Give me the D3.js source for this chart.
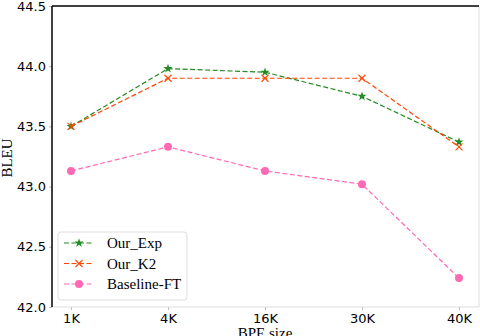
<!DOCTYPE html>
<html>
<head>
<meta charset="utf-8">
<script src="https://cdn.jsdelivr.net/npm/d3@7"></script>
<style>
  body { margin: 0; background: #fff; }
  svg { display: block; }
</style>
</head>
<body>
<svg id="chart" width="480" height="336"></svg>
<script>
// data
var bpeSizes = ["1K", "4K", "16K", "30K", "40K"];
var ourExp = [43.50, 43.98, 43.95, 43.75, 43.37];
var ourK2 = [43.50, 43.90, 43.90, 43.90, 43.33];
var baselineFT = [43.13, 43.33, 43.13, 43.02, 42.24];
var yTicks = [42.0, 42.5, 43.0, 43.5, 44.0, 44.5];

var series = [
	{name: "Our_Exp", values: ourExp, color: "#228b22", marker: "star"},
	{name: "Our_K2", values: ourK2, color: "#ff4500", marker: "x"},
	{name: "Baseline-FT", values: baselineFT, color: "#ff69b4", marker: "circle"}
];

var svg = d3.select("#chart");
//plot box (note: "top" is reserved on window, so use other names)
var plotLeft = 52, plotRight = 479, plotTop = 6, plotBottom = 307;

var x = d3.scalePoint().domain(bpeSizes).range([71, 459]);
var y = d3.scaleLinear().domain([42.0, 44.5]).range([plotBottom, plotTop]);

// axes
var xAxis = svg.append("g").attr("transform", "translate(0," + plotBottom + ")")
	.call(d3.axisBottom(x).tickSize(3).tickPadding(4));
xAxis.select(".domain").remove();
xAxis.selectAll("line").attr("stroke", "#bbb");
xAxis.selectAll("text").attr("font-family", "DejaVu Sans").attr("font-size", 13).attr("fill", "#000");

var yAxis = svg.append("g").attr("transform", "translate(" + plotLeft + ",0)")
	.call(d3.axisLeft(y).tickValues(yTicks).tickFormat(d3.format(".1f")).tickSize(3).tickPadding(3));
yAxis.select(".domain").remove();
yAxis.selectAll("line").attr("stroke", "#bbb");
yAxis.selectAll("text").attr("font-family", "DejaVu Sans").attr("font-size", 13).attr("fill", "#000");

// spines: left/top black, right/bottom light gray
svg.append("line").attr("x1", plotLeft).attr("x2", plotRight).attr("y1", plotBottom).attr("y2", plotBottom).attr("stroke", "#ddd");
svg.append("line").attr("x1", plotRight).attr("x2", plotRight).attr("y1", plotTop).attr("y2", plotBottom).attr("stroke", "#ddd");
svg.append("line").attr("x1", plotLeft).attr("x2", plotRight).attr("y1", plotTop).attr("y2", plotTop).attr("stroke", "#000").attr("stroke-width", 1.5);
svg.append("line").attr("x1", plotLeft).attr("x2", plotLeft).attr("y1", plotTop).attr("y2", plotBottom).attr("stroke", "#000").attr("stroke-width", 1.5);

// axis labels
svg.append("text").attr("x", 265).attr("y", 338).attr("text-anchor", "middle")
	.attr("font-family", "Liberation Serif").attr("font-size", 15).text("BPE size");
svg.append("text").attr("transform", "translate(12,158) rotate(-90)").attr("text-anchor", "middle")
	.attr("font-family", "Liberation Serif").attr("font-size", 15).text("BLEU");

function drawMarker(g, type, color) {
	if (type == "star")
		g.append("path").attr("d", d3.symbol().type(d3.symbolStar).size(26)).attr("fill", color);
	else if (type == "x")
		g.append("path").attr("d", "M-3.5,-3.5L3.5,3.5M-3.5,3.5L3.5,-3.5").attr("stroke", color).attr("stroke-width", 1.1).attr("fill", "none");
	else
		g.append("circle").attr("r", 4).attr("fill", color);
}

var line = d3.line().x(function(d, i) { return x(bpeSizes[i]); }).y(function(d) { return y(d); });

series.forEach(function(s) {
	svg.append("path").datum(s.values).attr("d", line)
		.attr("fill", "none").attr("stroke", s.color).attr("stroke-width", 1.2).attr("stroke-dasharray", "5,2.5");
	s.values.forEach(function(v, i) {
		var g = svg.append("g").attr("transform", "translate(" + x(bpeSizes[i]) + "," + y(v) + ")");
		drawMarker(g, s.marker, s.color);
	});
});

// legend
var legend = svg.append("g");
legend.append("rect").attr("x", 58).attr("y", 232).attr("width", 129).attr("height", 68).attr("rx", 3)
	.attr("fill", "#fff").attr("fill-opacity", 0.8).attr("stroke", "#ddd");
series.forEach(function(s, i) {
	var ly = 243 + i * 20.5;
	legend.append("line").attr("x1", 64).attr("x2", 94).attr("y1", ly).attr("y2", ly)
		.attr("stroke", s.color).attr("stroke-width", 1.2).attr("stroke-dasharray", "5,2.5");
	var g = legend.append("g").attr("transform", "translate(79," + ly + ")");
	drawMarker(g, s.marker, s.color);
	legend.append("text").attr("x", 107).attr("y", ly + 5).attr("font-family", "Liberation Serif")
		.attr("font-size", 15).text(s.name);
});
</script>
</body>
</html>
